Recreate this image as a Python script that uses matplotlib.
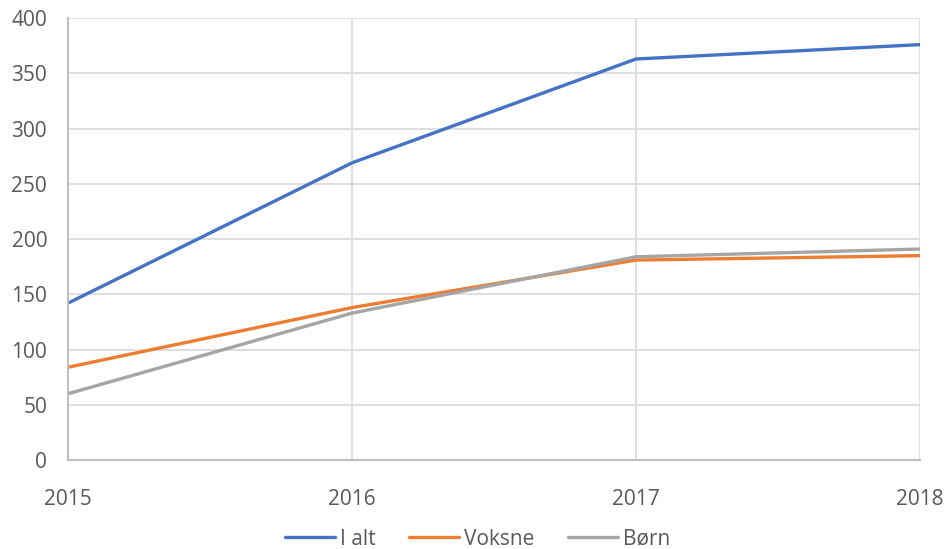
import matplotlib.pyplot as plt

plt.rcParams['font.family'] = ['Open Sans', 'DejaVu Sans']

# data
years = [2015, 2016, 2017, 2018]
i_alt = [142, 269, 363, 376]
voksne = [84, 138, 181, 185]
boern = [60, 133, 184, 191]

fig = plt.figure(figsize=(9.44, 5.49), dpi=100)
ax = fig.add_axes([0.072, 0.162, 0.9026, 0.805])

ax.plot(years, i_alt, color="#4472C4", lw=2.4, label="I alt", solid_capstyle="round")
ax.plot(years, voksne, color="#ED7D31", lw=2.4, label="Voksne", solid_capstyle="round")
ax.plot(years, boern, color="#A5A5A5", lw=2.4, label="Børn", solid_capstyle="round")

ax.set_xlim(2015, 2018)
ax.set_ylim(0, 400)
ax.set_xticks(years)
ax.set_xticklabels([str(y) for y in years])
ax.set_yticks(range(0, 401, 50))

ax.grid(True, color="#d9d9d9", lw=1.2)
ax.set_axisbelow(True)
for s in ["top", "right"]:
    ax.spines[s].set_visible(False)
for s in ["left", "bottom"]:
    ax.spines[s].set_color("#bfbfbf")
    ax.spines[s].set_linewidth(1.5)

ax.tick_params(axis="both", length=0, labelsize=15, labelcolor="#595959")
ax.tick_params(axis="x", pad=21)
ax.tick_params(axis="y", pad=15)

leg = ax.legend(loc="lower center", bbox_to_anchor=(0.481, -0.245), ncol=3,
                frameon=False, fontsize=15, handlelength=2.4, columnspacing=1.6,
                handletextpad=0.25)
for t in leg.get_texts():
    t.set_color("#595959")

fig.savefig("out.png", dpi=100)
